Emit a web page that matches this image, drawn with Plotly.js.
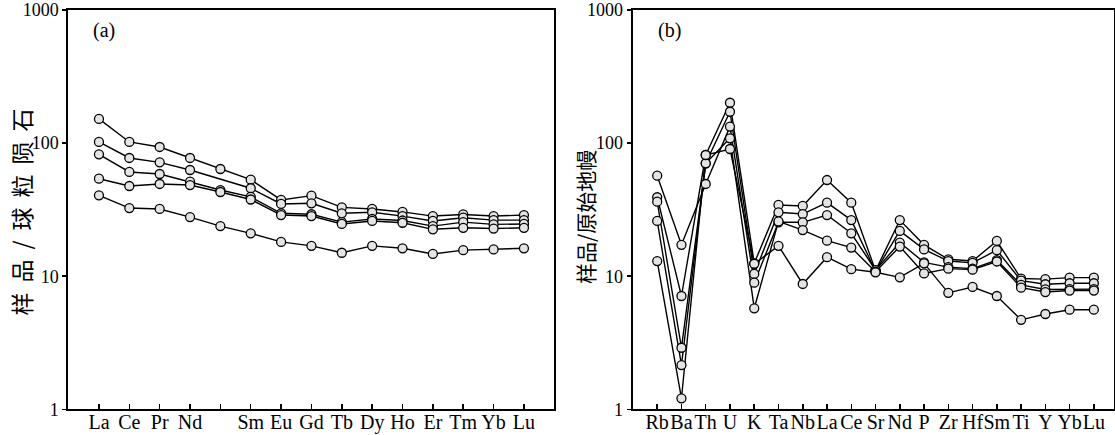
<!DOCTYPE html>
<html>
<head>
<meta charset="utf-8">
<script src="https://cdn.plot.ly/plotly-3.0.1.min.js"></script>
<style>
html,body{margin:0;padding:0;background:#fff;}
#chart{width:1115px;height:435px;}
.annotation[data-index="0"] text{letter-spacing:10px;}
</style>
</head>
<body>
<div id="chart"></div>
<script>
// ---------- (a) REE, chondrite-normalised ----------
const reeElements = ['La','Ce','Pr','Nd','Pm','Sm','Eu','Gd','Tb','Dy','Ho','Er','Tm','Yb','Lu'];
const reeTickText = ['La','Ce','Pr','Nd','','Sm','Eu','Gd','Tb','Dy','Ho','Er','Tm','Yb','Lu'];
const reeSampleA = [152, 102, 93.5, 77.3, 63.9, 53.1, 37.4, 40.3, 32.9, 32.0, 30.4, 28.3, 29.1, 28.3, 28.8];
const reeSampleB = [102, 77.3, 71.7, 62.8, null, 45.8, 34.9, 35.3, 29.7, 30.2, 28.3, 26.0, 27.5, 26.4, 26.4];
const reeSampleC = [82.4, 60.7, 58.6, 51.3, 44.4, 39.4, 29.7, 29.2, 25.5, 26.9, 26.2, 23.8, 25.5, 24.5, 24.7];
const reeSampleD = [54.0, 47.6, 49.3, 48.4, 42.9, 37.7, 28.8, 28.3, 24.7, 26.0, 25.2, 22.5, 23.1, 22.8, 23.1];
const reeSampleE = [40.5, 32.5, 32.0, 27.8, 23.8, 21.0, 18.1, 16.9, 15.0, 16.9, 16.2, 14.7, 15.7, 15.9, 16.2];

// ---------- (b) trace elements, primitive-mantle-normalised ----------
const spiderElements = ['Rb','Ba','Th','U','K','Ta','Nb','La','Ce','Sr','Nd','P','Zr','Hf','Sm','Ti','Y','Yb','Lu'];
const spiderSampleA = [39.2, 7.1, 81.4, 201, 12.5, 34.3, 33.7, 52.8, 35.7, 11.0, 26.4, 17.2, 13.4, 13.0, 18.4, 9.6, 9.5, 9.75, 9.75];
const spiderSampleB = [36.3, 2.9, 70.5, 172, 10.4, 30.2, 29.3, 35.7, 26.4, 10.9, 21.9, 15.9, 13.0, 12.6, 15.7, 9.25, 8.7, 8.85, 8.85];
const spiderSampleC = [56.9, 17.2, 49.3, 133, 8.94, 25.4, 25.4, 28.8, 21.0, 11.1, 17.9, 12.7, 11.7, 11.4, 13.2, 8.6, 7.95, 8.0, 8.0];
const spiderSampleD = [26.0, 2.15, 70.5, 108.6, 5.74, 25.8, 22.2, 18.5, 16.4, 10.8, 16.7, 10.5, 11.4, 11.2, 12.9, 8.2, 7.6, 7.8, 7.8];
const spiderSampleE = [13.0, 1.21, 81.4, 90.3, 12.4, 16.9, 8.74, 13.9, 11.3, 10.7, 9.8, 12.5, 7.5, 8.3, 7.1, 4.7, 5.2, 5.6, 5.6];

const yTickVals = [1, 10, 100, 1000];
const yTickText = ['1', '10', '100', '1000'];

const reeIdx = reeElements.map((_, i) => i);
const spIdx = spiderElements.map((_, i) => i);

const reeSeries = [reeSampleA, reeSampleB, reeSampleC, reeSampleD, reeSampleE];
const spSeries = [spiderSampleA, spiderSampleB, spiderSampleC, spiderSampleD, spiderSampleE];

const lineStyle = {color: '#000', width: 1.4};
const markerStyle = {symbol: 'circle', size: 9, color: '#e4e4e4', line: {color: '#000', width: 1.3}};

const traces = [];
// lines first, markers on top
reeSeries.forEach(s => traces.push({x: reeIdx, y: s, type: 'scatter', mode: 'lines', line: lineStyle, connectgaps: true, xaxis: 'x', yaxis: 'y', hoverinfo: 'skip'}));
spSeries.forEach(s => traces.push({x: spIdx, y: s, type: 'scatter', mode: 'lines', line: lineStyle, connectgaps: true, xaxis: 'x2', yaxis: 'y2', hoverinfo: 'skip'}));
reeSeries.forEach(s => traces.push({x: reeIdx, y: s, type: 'scatter', mode: 'markers', marker: markerStyle, xaxis: 'x', yaxis: 'y'}));
spSeries.forEach(s => traces.push({x: spIdx, y: s, type: 'scatter', mode: 'markers', marker: markerStyle, xaxis: 'x2', yaxis: 'y2'}));

const W = 1115, H = 435;
const serif = 'Liberation Serif, Times New Roman, serif';
const cjk = 'Noto Sans CJK SC, sans-serif';

const xBase = {
  type: 'linear', ticks: 'inside', ticklen: 5, tickwidth: 1.5, tickcolor: '#000',
  tickangle: 0, ticklabelstandoff: -6,
  showline: true, mirror: true, linewidth: 2, linecolor: '#000',
  showgrid: false, zeroline: false, fixedrange: true,
  tickfont: {family: serif, size: 20, color: '#000'}
};
const yBase = {
  type: 'log', range: [0, 3], tickvals: yTickVals, ticktext: yTickText,
  ticks: 'outside', ticklen: 4, tickwidth: 1.5, tickcolor: '#000',
  ticklabeloverflow: 'allow',
  showline: true, mirror: true, linewidth: 2, linecolor: '#000',
  showgrid: false, zeroline: false, fixedrange: true,
  tickfont: {family: serif, size: 18, color: '#000'},
  domain: [1 - 409.3 / H, 1 - 10 / H]
};

const layout = {
  width: W, height: H,
  margin: {l: 0, r: 0, t: 0, b: 0},
  paper_bgcolor: '#fff', plot_bgcolor: '#fff',
  showlegend: false,
  xaxis: Object.assign({}, xBase, {domain: [68.3 / W, 554.3 / W], range: [-1.01, 15], tickvals: reeIdx, ticktext: reeTickText, anchor: 'y'}),
  yaxis: Object.assign({}, yBase, {anchor: 'x'}),
  xaxis2: Object.assign({}, xBase, {domain: [632.7 / W, 1114 / W], range: [-1.01, 18.83], tickvals: spIdx, ticktext: spiderElements, anchor: 'y2'}),
  yaxis2: Object.assign({}, yBase, {anchor: 'x2'}),
  annotations: [
    {text: '样品/球粒陨石', xref: 'paper', yref: 'paper', x: 20 / W, y: 1 - 207.5 / H, xanchor: 'center', yanchor: 'middle', textangle: -90, showarrow: false, font: {family: cjk, size: 23, color: '#000'}},
    {text: '样品/原始地幔', xref: 'paper', yref: 'paper', x: 585 / W, y: 1 - 217 / H, xanchor: 'center', yanchor: 'middle', textangle: -90, showarrow: false, font: {family: cjk, size: 21, color: '#000'}},
    {text: '(a)', xref: 'paper', yref: 'paper', x: 104 / W, y: 1 - 31 / H, xanchor: 'center', yanchor: 'middle', showarrow: false, font: {family: serif, size: 20, color: '#000'}},
    {text: '(b)', xref: 'paper', yref: 'paper', x: 669 / W, y: 1 - 31 / H, xanchor: 'center', yanchor: 'middle', showarrow: false, font: {family: serif, size: 20, color: '#000'}}
  ]
};

Plotly.newPlot('chart', traces, layout, {displayModeBar: false, staticPlot: true});
</script>
</body>
</html>
